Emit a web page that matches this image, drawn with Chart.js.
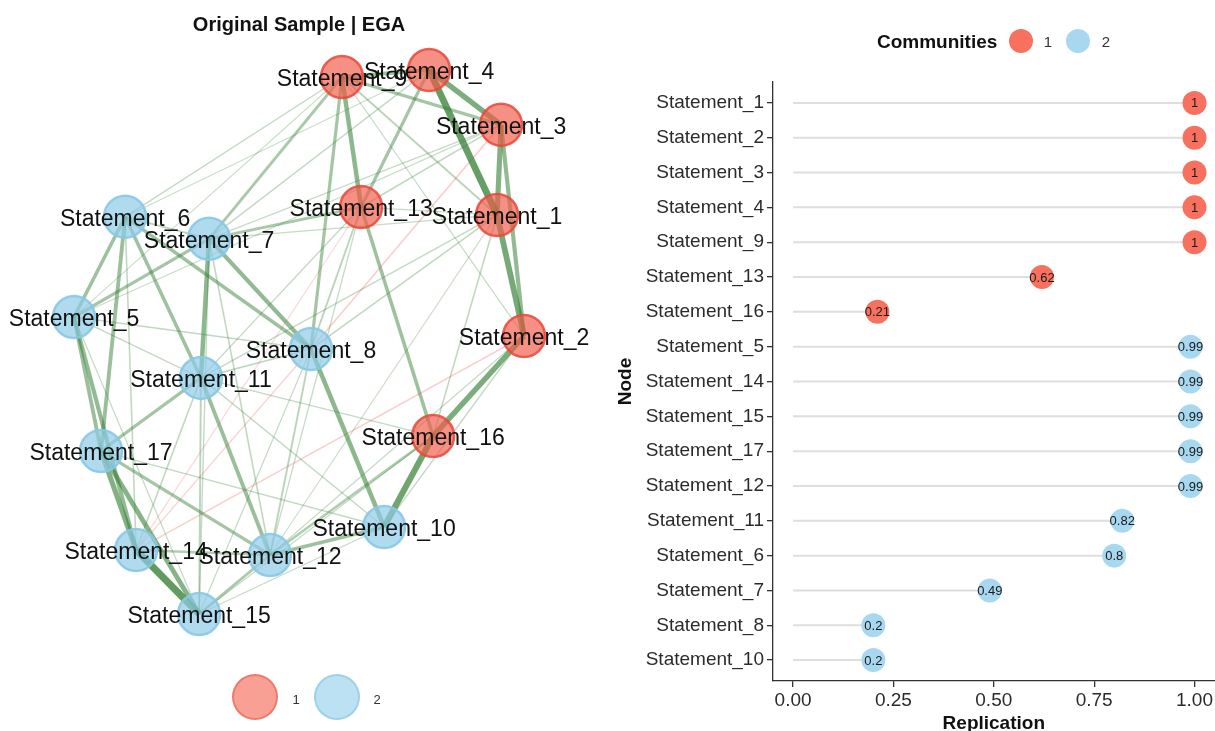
<!DOCTYPE html>
<html>
<head>
<meta charset="utf-8">
<script src="https://cdn.jsdelivr.net/npm/chart.js@4.4.1/dist/chart.umd.min.js"></script>
<style>
  body { margin: 0; background: #fff; font-family: "Liberation Sans", Arial, sans-serif; }
  #page { position: relative; width: 1215px; height: 731px; overflow: hidden; }
  canvas { position: absolute; top: 0; }
  .txt { position: absolute; white-space: nowrap; line-height: 1; }
  .dot { position: absolute; border-radius: 50%; box-sizing: border-box; }
</style>
</head>
<body>
<div id="page">
  <canvas id="networkChart" width="610" height="731" style="left:0"></canvas>
  <canvas id="replicationChart" width="605" height="731" style="left:610px"></canvas>

  <div class="txt" style="left:299px; top:24px; transform:translate(-50%,-50%); font-weight:bold; font-size:20px; color:#111;">Original Sample | EGA</div>

  <!-- network legend -->
  <div class="dot" style="left:232px; top:674px; width:46px; height:46px; background:rgba(247,120,104,0.7); border:2px solid rgba(240,110,95,0.8);"></div>
  <div class="txt" style="left:296px; top:699px; transform:translate(-50%,-50%); font-size:13px; color:#333;">1</div>
  <div class="dot" style="left:314px; top:674px; width:46px; height:46px; background:rgba(160,212,236,0.7); border:2px solid rgba(150,207,234,0.85);"></div>
  <div class="txt" style="left:377px; top:699px; transform:translate(-50%,-50%); font-size:13px; color:#333;">2</div>

  <!-- replication legend -->
  <div class="txt" style="left:877px; top:41px; transform:translateY(-50%); font-weight:bold; font-size:19px; color:#111;">Communities</div>
  <div class="dot" style="left:1009px; top:29px; width:24px; height:24px; background:#f7715e;"></div>
  <div class="txt" style="left:1048px; top:41px; transform:translate(-50%,-50%); font-size:15px; color:#333;">1</div>
  <div class="dot" style="left:1066px; top:29px; width:24px; height:24px; background:#a8d8ef;"></div>
  <div class="txt" style="left:1106px; top:41px; transform:translate(-50%,-50%); font-size:15px; color:#333;">2</div>
</div>

<script>
// ---- network (EGA) data ----
const nodeNames = ['Statement_1', 'Statement_2', 'Statement_3', 'Statement_4', 'Statement_5', 'Statement_6',
    'Statement_7', 'Statement_8', 'Statement_9', 'Statement_10', 'Statement_11', 'Statement_12',
    'Statement_13', 'Statement_14', 'Statement_15', 'Statement_16', 'Statement_17'];
const nodeCommunity = [1, 1, 1, 1, 2, 2, 2, 2, 1, 2, 2, 2, 1, 2, 2, 1, 2];
const layoutX = [0.88, 1.0, 0.898, 0.578, -1.0, -0.773, -0.4, 0.053, 0.191, 0.378, -0.436, -0.129, 0.276, -0.724, -0.444, 0.596, -0.88];
const layoutY = [0.478, 0.033, 0.809, 1.011, 0.103, 0.471, 0.39, -0.015, 0.985, -0.669, -0.121, -0.772, 0.507, -0.754, -0.989, -0.335, -0.39];

// [node a, node b, partial correlation weight] (node numbers as in Statement_n)
const edges = [
    [4, 1, 0.95], [4, 3, 0.75], [3, 1, 0.7], [1, 2, 0.8], [3, 2, 0.55], [9, 4, 0.5], [9, 3, 0.4],
    [9, 13, 0.6], [4, 13, 0.4], [9, 7, 0.35], [9, 8, 0.4], [9, 1, 0.2], [9, 6, 0.12], [9, 5, 0.08],
    [9, 2, 0.1], [4, 7, 0.12], [4, 6, 0.08], [3, 13, 0.15], [3, 7, 0.1], [3, 5, 0.08], [1, 8, 0.15],
    [1, 11, 0.12], [1, 16, 0.15], [1, 12, 0.08], [1, 7, 0.1], [1, 13, 0.1], [2, 16, 0.75], [2, 12, 0.1],
    [2, 10, 0.12], [13, 16, 0.45], [13, 7, 0.35], [13, 8, 0.2], [13, 11, 0.12], [13, 12, 0.1],
    [16, 10, 0.85], [16, 12, 0.3], [16, 15, 0.1], [16, 11, 0.12], [8, 10, 0.6], [7, 8, 0.55],
    [6, 8, 0.45], [7, 11, 0.6], [6, 11, 0.45], [6, 17, 0.5], [6, 5, 0.45], [7, 5, 0.4], [6, 7, 0.2],
    [6, 14, 0.15], [7, 12, 0.15], [7, 15, 0.12], [5, 17, 0.5], [5, 14, 0.55], [5, 8, 0.15],
    [5, 11, 0.12], [5, 15, 0.1], [17, 14, 0.7], [17, 15, 0.65], [14, 15, 1.0], [11, 17, 0.4],
    [11, 12, 0.5], [11, 15, 0.2], [11, 14, 0.15], [17, 12, 0.4], [17, 10, 0.12], [12, 10, 0.45],
    [12, 15, 0.35], [14, 12, 0.3], [10, 15, 0.1], [8, 12, 0.2], [8, 11, 0.15], [8, 15, 0.1],
    [11, 10, 0.12], [3, 8, -0.15], [2, 14, -0.15], [8, 14, -0.12], [13, 14, -0.08]
];

// ---- replication data ----
const replicationNodes = ['Statement_1', 'Statement_2', 'Statement_3', 'Statement_4', 'Statement_9', 'Statement_13',
    'Statement_16', 'Statement_5', 'Statement_14', 'Statement_15', 'Statement_17', 'Statement_12',
    'Statement_11', 'Statement_6', 'Statement_7', 'Statement_8', 'Statement_10'];
const replicationValues = [1, 1, 1, 1, 1, 0.62, 0.21, 0.99, 0.99, 0.99, 0.99, 0.99, 0.82, 0.8, 0.49, 0.2, 0.2];
const replicationCommunity = [1, 1, 1, 1, 1, 1, 1, 2, 2, 2, 2, 2, 2, 2, 2, 2, 2];
const replicationTicks = [0, 0.25, 0.5, 0.75, 1];

const FONT = "'Liberation Sans', Arial, sans-serif";

document.addEventListener('DOMContentLoaded', () => {
    // Network plot
    var edgeSets = edges.map(function (e) {
        var a = e[0] - 1, b = e[1] - 1, w = Math.abs(e[2]);
        var col = e[2] > 0
            ? 'rgba(48,125,48,' + (0.22 + 0.55 * w).toFixed(2) + ')'
            : 'rgba(235,90,90,' + (0.2 + 0.6 * w).toFixed(2) + ')';
        return {
            data: [{ x: layoutX[a], y: layoutY[a] }, { x: layoutX[b], y: layoutY[b] }],
            showLine: true,
            borderColor: col,
            borderWidth: 0.6 + 6.5 * w,
            pointRadius: 0,
            order: 2
        };
    });

    var nodeSets = [1, 2].map(function (c) {
        var pts = [];
        nodeNames.forEach(function (n, i) {
            if (nodeCommunity[i] === c) pts.push({ x: layoutX[i], y: layoutY[i], name: n });
        });
        return {
            label: String(c),
            data: pts,
            pointRadius: 21,
            backgroundColor: c === 1 ? 'rgba(242,92,74,0.68)' : 'rgba(142,204,232,0.7)',
            borderColor: c === 1 ? 'rgba(232,72,56,0.85)' : 'rgba(136,200,230,0.9)',
            borderWidth: 2.5,
            order: 0
        };
    });

    const nodeLabels = {
        id: 'nodeLabels',
        afterDatasetsDraw(chart) {
            var ctx = chart.ctx;
            ctx.save();
            ctx.font = '23px ' + FONT;
            ctx.fillStyle = '#111';
            ctx.textAlign = 'center';
            ctx.textBaseline = 'middle';
            nodeNames.forEach(function (n, i) {
                var px = chart.scales.x.getPixelForValue(layoutX[i]);
                var py = chart.scales.y.getPixelForValue(layoutY[i]);
                ctx.fillText(n, px, py + 3);
            });
            ctx.restore();
        }
    };

    new Chart(document.getElementById('networkChart'), {
        type: 'scatter',
        data: { datasets: nodeSets.concat(edgeSets) },
        options: {
            responsive: false,
            animation: false,
            events: [],
            layout: { padding: 0, autoPadding: false },
            scales: {
                x: { display: false, min: -1.329, max: 1.382 },
                y: { display: false, min: -1.419, max: 1.268 }
            },
            plugins: { legend: { display: false }, tooltip: { enabled: false } }
        },
        plugins: [nodeLabels]
    });

    // Replication lollipop plot
    var stems = replicationValues.map(function (v, i) {
        return {
            data: [{ x: 0, y: i }, { x: v, y: i }],
            showLine: true,
            borderColor: '#dedede',
            borderWidth: 2,
            pointRadius: 0,
            order: 2
        };
    });
    var dots = {
        data: replicationValues.map(function (v, i) { return { x: v, y: i }; }),
        pointRadius: 12,
        borderWidth: 0,
        backgroundColor: replicationCommunity.map(function (c) { return c === 1 ? '#f7715e' : '#a8d8ef'; }),
        order: 0
    };

    const valueLabels = {
        id: 'valueLabels',
        afterDatasetsDraw(chart) {
            var ctx = chart.ctx;
            var meta = chart.getDatasetMeta(0);
            ctx.save();
            ctx.font = '13px ' + FONT;
            ctx.fillStyle = '#1a1a1a';
            ctx.textAlign = 'center';
            ctx.textBaseline = 'middle';
            meta.data.forEach(function (pt, i) {
                ctx.fillText(String(replicationValues[i]), pt.x, pt.y + 1);
            });
            ctx.restore();
        }
    };

    new Chart(document.getElementById('replicationChart'), {
        type: 'scatter',
        data: { datasets: [dots].concat(stems) },
        options: {
            responsive: false,
            animation: false,
            events: [],
            layout: { padding: { top: 82, right: 0, left: 0, bottom: 0 }, autoPadding: false },
            scales: {
                x: {
                    type: 'linear', min: -0.05, max: 1.05,
                    afterBuildTicks: function (s) { s.ticks = replicationTicks.map(function (v) { return { value: v }; }); },
                    afterFit: function (s) { s.height = 50; },
                    ticks: { callback: function (v) { return v.toFixed(2); }, font: { family: FONT, size: 19 }, color: '#2b2b2b', padding: 2, maxRotation: 0 },
                    grid: { drawOnChartArea: false, tickLength: 6, color: '#333', lineWidth: 1.3 },
                    border: { color: '#333', width: 1.3 },
                    title: { display: true, text: 'Replication', font: { family: FONT, size: 19, weight: 'bold' }, color: '#111', padding: { top: 0, bottom: -4 } }
                },
                y: {
                    type: 'linear', reverse: true, min: -0.6, max: 16.6,
                    afterBuildTicks: function (s) { s.ticks = replicationNodes.map(function (n, i) { return { value: i }; }); },
                    afterFit: function (s) { s.width = 163; },
                    ticks: { callback: function (v) { return replicationNodes[v]; }, autoSkip: false, font: { family: FONT, size: 19 }, color: '#2b2b2b', padding: 3 },
                    grid: { drawOnChartArea: false, tickLength: 6, color: '#333', lineWidth: 1.3 },
                    border: { color: '#333', width: 1.3 },
                    title: { display: true, text: 'Node', font: { family: FONT, size: 19, weight: 'bold' }, color: '#111', padding: { top: 4, bottom: 0 } }
                }
            },
            plugins: { legend: { display: false }, tooltip: { enabled: false } }
        },
        plugins: [valueLabels]
    });
});
</script>
</body>
</html>
